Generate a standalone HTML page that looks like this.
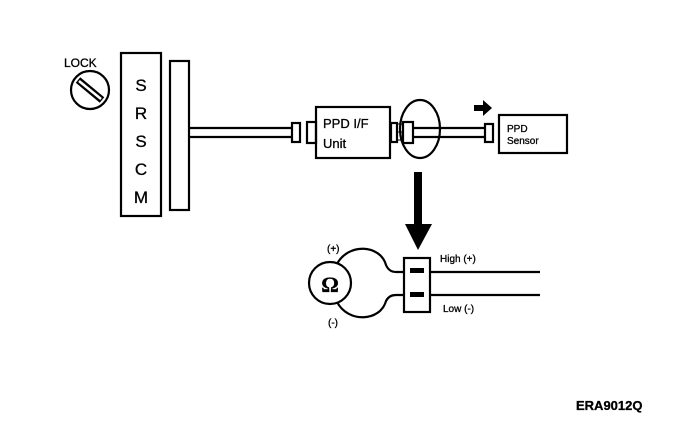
<!DOCTYPE html>
<html><head><style>body{margin:0;background:#fff}svg{display:block}</style></head><body>
<svg width="688" height="434" viewBox="0 0 688 434" xmlns="http://www.w3.org/2000/svg" font-family="Liberation Sans, Arial, sans-serif">
<rect width="688" height="434" fill="#fff"/>
<g fill="none" stroke="#000" stroke-width="2.2">
<rect x="121" y="53" width="40" height="163"/>
<rect x="170" y="61" width="19" height="149"/>
<circle cx="90" cy="90" r="19"/>
<line x1="78" y1="80" x2="102" y2="100" stroke-width="7"/>
<line x1="79" y1="81" x2="101" y2="99" stroke="#fff" stroke-width="2.5"/>
<line x1="189" y1="128" x2="291" y2="128"/>
<line x1="189" y1="137" x2="291" y2="137"/>
<rect x="292" y="123" width="8" height="19"/>
<rect x="307" y="122" width="9" height="21"/>
<rect x="316" y="107" width="74" height="51"/>
<rect x="391" y="123" width="6" height="19"/>
<rect x="403" y="122" width="10" height="21"/>
<line x1="398" y1="124" x2="403" y2="124" stroke-width="1"/>
<line x1="398" y1="132" x2="403" y2="132" stroke-width="1"/>
<line x1="398" y1="140" x2="403" y2="140" stroke-width="1"/>
<ellipse cx="420" cy="129" rx="20" ry="29"/>
<line x1="413" y1="128" x2="485" y2="128"/>
<line x1="413" y1="137" x2="485" y2="137"/>
<rect x="485" y="124" width="8" height="18"/>
<rect x="499" y="115" width="68" height="38"/>
<rect x="404" y="258" width="26" height="54"/>
<line x1="430" y1="272" x2="540" y2="272"/>
<line x1="430" y1="295" x2="540" y2="295"/>
<circle cx="330" cy="283" r="21"/>
<path d="M337 264 C348 243 380 244 386 265 Q389 272 396 272 L404 272"/>
<path d="M337 302 C348 323 380 322 386 301 Q389 295 396 295 L404 295"/>
</g>
<rect x="410" y="268" width="14" height="5" fill="#000"/>
<rect x="410" y="292" width="14" height="5" fill="#000"/>
<rect x="414" y="172" width="8" height="56" fill="#000"/>
<polygon points="405,224 432,224 418,250" fill="#000"/>
<rect x="474" y="105" width="10" height="6" fill="#000"/>
<polygon points="483,100 492,108 483,116" fill="#000"/>
<g fill="#000" stroke="#000" stroke-width="0.3">
<text x="64" y="67" font-size="12">LOCK</text>
<g font-size="17" text-anchor="middle">
<text x="141" y="91">S</text><text x="141" y="119">R</text><text x="141" y="147">S</text><text x="141" y="175">C</text><text x="141" y="203">M</text>
</g>
<text x="323" y="128" font-size="13">PPD I/F</text>
<text x="323" y="148" font-size="13">Unit</text>
<text x="507" y="132" font-size="10">PPD</text>
<text x="507" y="144" font-size="10">Sensor</text>
<text x="330" y="292" font-size="22" font-weight="bold" text-anchor="middle" font-family="Liberation Serif, serif">Ω</text>
<text x="327" y="252" font-size="10">(+)</text>
<text x="328" y="326" font-size="10">(-)</text>
<text x="440" y="262" font-size="10">High (+)</text>
<text x="443" y="312" font-size="10">Low (-)</text>
<text x="576" y="410" font-size="13" font-weight="bold">ERA9012Q</text>
</g>
</svg>
</body></html>
